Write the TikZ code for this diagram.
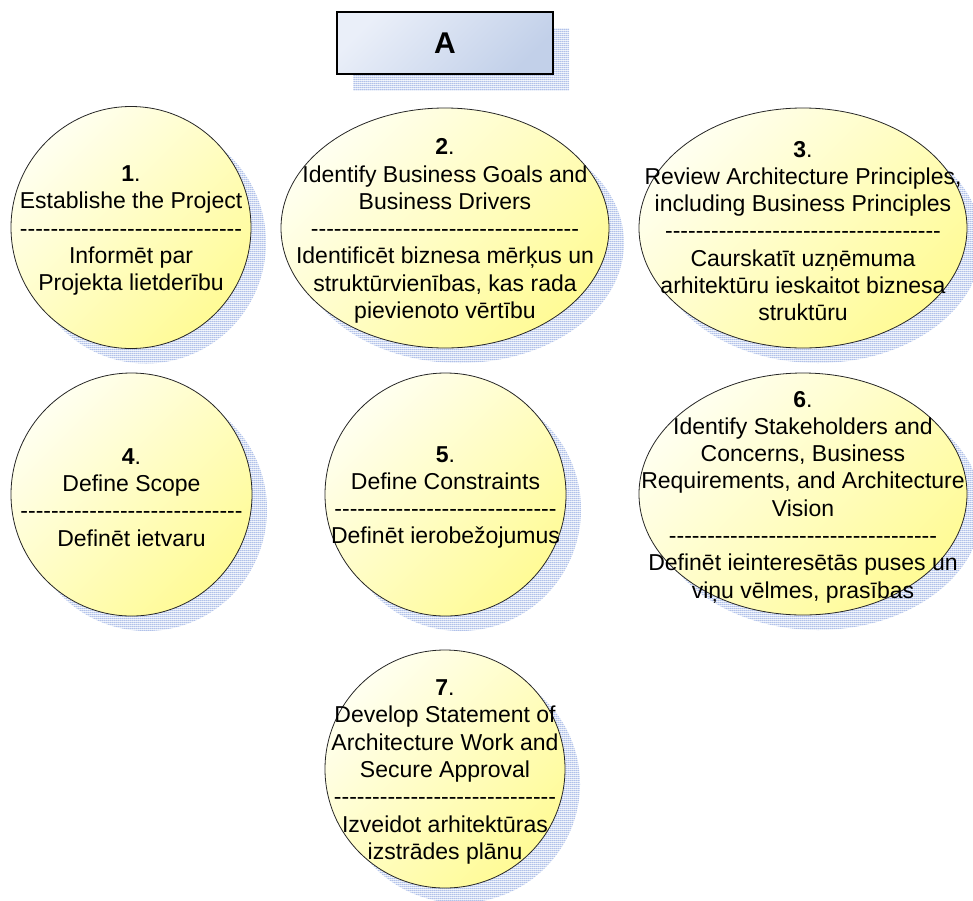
\documentclass[tikz,border=0pt]{standalone}
\usepackage{fontspec}
\setmainfont{Liberation Sans}[Ligatures=TeXOff]
\usetikzlibrary{shapes.geometric,shadows,patterns.meta}

\definecolor{meshblue}{RGB}{150,172,225}
\definecolor{meshback}{RGB}{228,234,248}
\definecolor{stagelight}{RGB}{255,255,240}
\definecolor{stagemid}{RGB}{255,255,178}
\definecolor{stagedark}{RGB}{255,251,150}
\definecolor{titlelight}{RGB}{234,239,249}
\definecolor{titledark}{RGB}{194,208,233}

% fine blue mesh used for the drop shadows
\tikzdeclarepattern{
  name=shadowmesh,
  type=colored,
  bottom left={(0pt,0pt)},
  top right={(2pt,2pt)},
  tile size={(2pt,2pt)},
  code={
    \pgfsetfillcolor{meshback}
    \pgfpathrectangle{\pgfpoint{0pt}{0pt}}{\pgfpoint{2pt}{2pt}}
    \pgfusepath{fill}
    \pgfsetfillcolor{meshblue}
    \pgfpathrectangle{\pgfpoint{0pt}{0pt}}{\pgfpoint{2pt}{0.7pt}}
    \pgfpathrectangle{\pgfpoint{0pt}{0pt}}{\pgfpoint{0.7pt}{2pt}}
    \pgfusepath{fill}
  }
}

% a row of n hyphens
\newcommand\hyrow[1]{\ifnum#1>0 -\expandafter\hyrow\expandafter{\the\numexpr#1-1\relax}\fi}

\tikzset{
  meshshadow/.style={drop shadow={shadow xshift=#1, shadow yshift=-#1,
      opacity=1, draw=none, pattern=shadowmesh}},
  stage/.style={ellipse, draw=black!85, line width=0.8pt, inner sep=0pt,
      top color=stagelight, middle color=stagemid, bottom color=stagedark,
      shading angle=45, meshshadow=15pt},
  stagetext/.style={align=center, inner sep=0pt, yshift=-3pt,
      font=\fontsize{23}{27.3}\selectfont},
  titlebox/.style={rectangle, draw=black, line width=2.6pt, inner sep=0pt,
      minimum width=216pt, minimum height=62pt,
      top color=titlelight, bottom color=titledark, shading angle=45,
      meshshadow=16pt, font=\bfseries\fontsize{30}{36}\selectfont},
}

\begin{document}
\begin{tikzpicture}[x=1pt, y=-1pt]
\useasboundingbox (0,0) rectangle (973,900);

\node[titlebox] (title) at (445,43) {A};

% stage ellipses
\node[stage, minimum width=240pt, minimum height=242pt] (e1) at (131,227.5) {};
\node[stage, minimum width=328pt, minimum height=240pt] (e2) at (445,228) {};
\node[stage, minimum width=328pt, minimum height=240pt] (e3) at (803,228) {};
\node[stage, minimum width=241pt, minimum height=243pt] (e4) at (131.5,494.5) {};
\node[stage, minimum width=241pt, minimum height=243pt] (e5) at (445.5,494.5) {};
\node[stage, minimum width=328pt, minimum height=242pt] (e6) at (803,494) {};
\node[stage, minimum width=240pt, minimum height=238pt] (e7) at (445,769) {};

% stage texts
\node[stagetext] (t1) at (e1.center) {\textbf{1}.\\Establishe the Project\\\hyrow{29}\\Informēt par\\Projekta lietderību};
\node[stagetext] (t2) at (e2.center) {\textbf{2}.\\Identify Business Goals and\\Business Drivers\\\hyrow{35}\\Identificēt biznesa mērķus un\\struktūrvienības, kas rada\\pievienoto vērtību};
\node[stagetext] (t3) at (e3.center) {\textbf{3}.\\Review Architecture Principles,\\including Business Principles\\\hyrow{36}\\Caurskatīt uzņēmuma\\arhitektūru ieskaitot biznesa\\struktūru};
\node[stagetext] (t4) at (e4.center) {\textbf{4}.\\Define Scope\\\hyrow{29}\\Definēt ietvaru};
\node[stagetext] (t5) at (e5.center) {\textbf{5}.\\Define Constraints\\\hyrow{29}\\Definēt ierobežojumus};
\node[stagetext] (t6) at (e6.center) {\textbf{6}.\\Identify Stakeholders and\\Concerns, Business\\Requirements, and Architecture\\Vision\\\hyrow{35}\\Definēt ieinteresētās puses un\\viņu vēlmes, prasības};
\node[stagetext] (t7) at (e7.center) {\textbf{7}.\\Develop Statement of\\Architecture Work and\\Secure Approval\\\hyrow{29}\\Izveidot arhitektūras\\izstrādes plānu};
\end{tikzpicture}
\end{document}
